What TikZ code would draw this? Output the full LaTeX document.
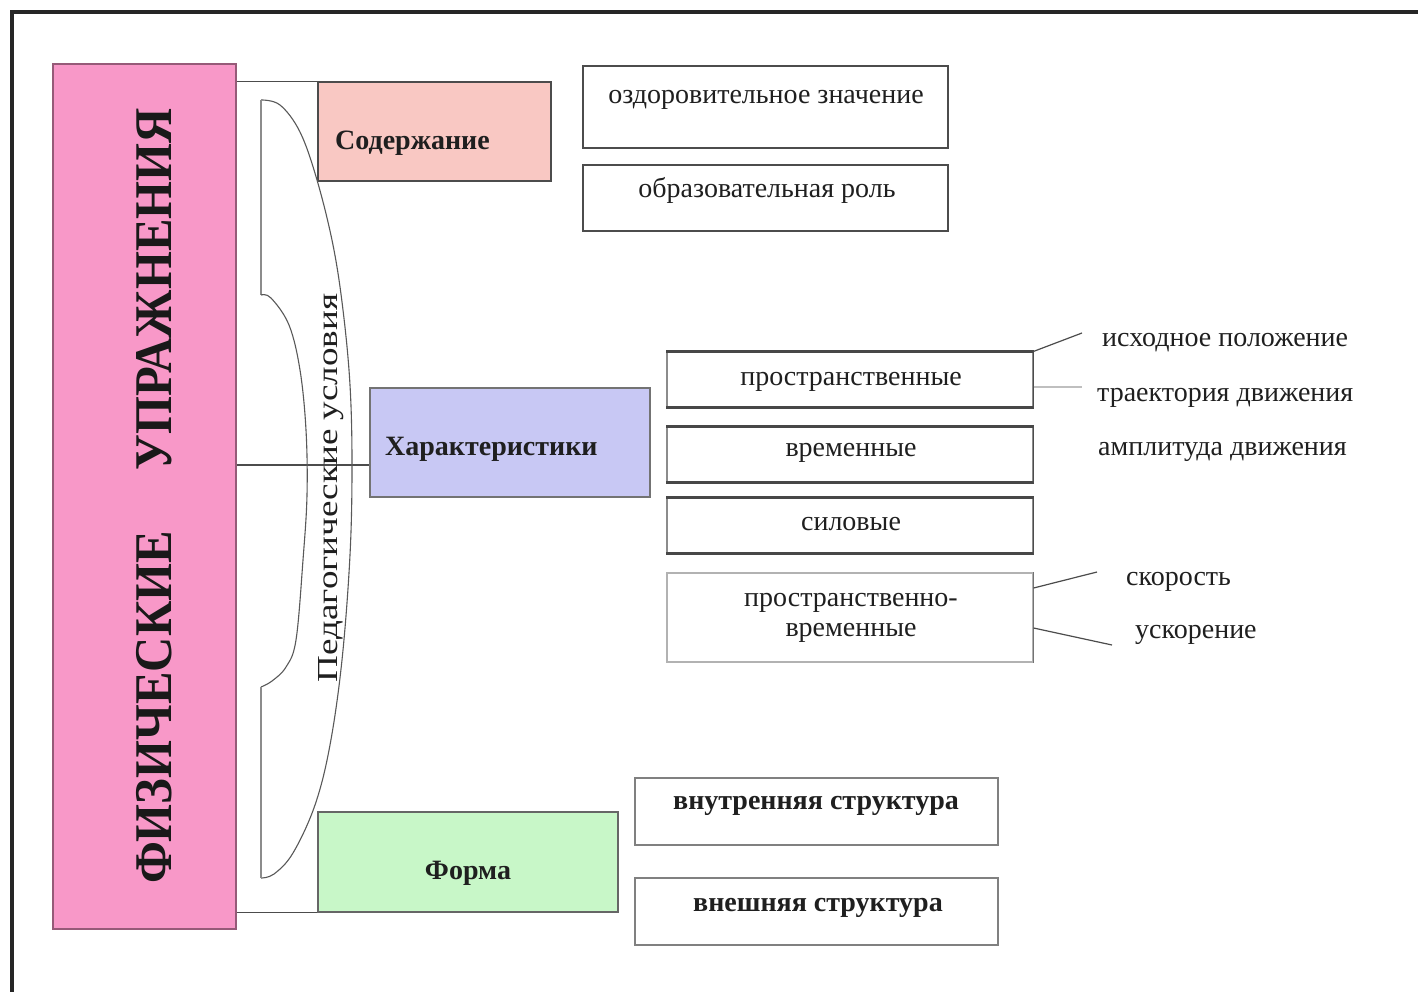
\documentclass[tikz,border=0pt]{standalone}
\usepackage{fontspec}
\setmainfont{Liberation Serif}
\usepackage{graphicx}
\definecolor{pinkF}{RGB}{248,152,200}
\definecolor{pinkD}{RGB}{150,90,120}
\definecolor{sodF}{RGB}{249,200,195}
\definecolor{harF}{RGB}{200,200,244}
\definecolor{formF}{RGB}{200,247,200}
\begin{document}
\begin{tikzpicture}[x=1pt,y=-1pt,
  box/.style={draw=black!70, line width=1.6pt, inner sep=0pt},
  sbox/.style={draw=black!45, line width=1.2pt, inner sep=0pt},
  edge3/.style={draw=black!72, line width=2.6pt},
  txt/.style={inner sep=0pt, anchor=base, text=black!88, font=\fontsize{28}{32}\selectfont},
  btxt/.style={txt, font=\fontsize{28}{32}\selectfont\bfseries},
  conn/.style={draw=black!70, line width=1.2pt},
  bracel/.style={draw=black!65, line width=1.1pt},
]
\useasboundingbox (0,0) rectangle (1418,992);
\fill[white] (0,0) rectangle (1418,992);

% outer frame
\draw[line width=3.5pt, black!85] (12,992) -- (12,12) -- (1418,12);

% main boxes
\node[box, fill=pinkF, draw=pinkD, minimum width=183pt, minimum height=865pt] (fiz) at (144.5,496.5) {};
\node[box, fill=sodF, minimum width=233pt, minimum height=99pt] (sod) at (434.5,131.5) {};
\node[box, fill=harF, draw=black!55, minimum width=280pt, minimum height=109pt] (har) at (510,442.5) {};
\node[box, fill=formF, draw=black!60, minimum width=300pt, minimum height=100pt] (form) at (468,862) {};

% right boxes
\node[box, minimum width=365pt, minimum height=82pt] (ozd) at (765.5,107) {};
\node[box, minimum width=365pt, minimum height=66pt] (obr) at (765.5,198) {};

\node[sbox, minimum width=366pt, minimum height=55pt] (pr) at (850,379.5) {};
\node[sbox, minimum width=366pt, minimum height=55pt] (vr) at (850,454.5) {};
\node[sbox, minimum width=366pt, minimum height=55pt] (sil) at (850,525.5) {};
\node[sbox, draw=black!30, minimum width=366pt, minimum height=89pt] (prv) at (850,617.5) {};
\foreach \b in {pr,vr,sil}{
  \draw[edge3] (\b.north west) -- (\b.north east);
  \draw[edge3] (\b.south west) -- (\b.south east);
  \draw[draw=black!70, line width=1.4pt] (\b.north east) -- (\b.south east);
}
\draw[draw=black!55, line width=1.4pt] (prv.north east) -- (prv.south east);

\node[sbox, draw=black!50, line width=1.5pt, minimum width=363pt, minimum height=67pt] (vnu) at (816.5,811.5) {};
\node[sbox, draw=black!50, line width=1.5pt, minimum width=363pt, minimum height=67pt] (vne) at (816.5,911.5) {};

% connectors from main box
\draw[conn] (fiz.east |- sod.north) -- (sod.north west);
\coordinate (hj) at ([yshift=-22.5pt]har.west);
\draw[conn] (fiz.east |- hj) -- (hj);
\draw[conn] (fiz.east |- form.south) -- (form.south west);

% brace
\draw[bracel] plot[smooth, tension=0.6] coordinates {(261,100) (280,105) (300,132) (317,180) (333,245) (343,310) (350,385) (352,465) (350,555) (342,660) (330,745) (315,805) (293,853) (274,874) (261,878)};
\draw[bracel, draw=black!45] (261,100) -- (261,295);
\draw[bracel] plot[smooth, tension=0.6] coordinates {(261,295) (271,298) (289,325) (300,370) (306,430) (307,495) (303,560) (296,640) (286,667) (272,681) (261,687)};
\draw[bracel, draw=black!45] (261,687) -- (261,878);

% right connectors
\coordinate (c1) at (1082,333);
\coordinate (c2) at (1082,387);
\coordinate (c3) at (1097,572);
\coordinate (c4) at (1112,645);
\draw[conn] (pr.north east) -- (c1);
\draw[conn, draw=black!25] ([yshift=-7.5pt]pr.east) -- (c2);
\draw[conn] ([yshift=29.5pt]prv.east) -- (c3);
\draw[conn] ([yshift=-10.5pt]prv.east) -- (c4);

% texts
\node[inner sep=0pt, anchor=base, rotate=90, text=black!90, font=\fontsize{53}{56}\selectfont\bfseries] (t1) at (171,289.5) {\scalebox{0.92}[1]{УПРАЖНЕНИЯ}};
\node[inner sep=0pt, anchor=base, rotate=90, text=black!90, font=\fontsize{53}{56}\selectfont\bfseries] (t2) at (171,707.5) {\scalebox{0.92}[1]{ФИЗИЧЕСКИЕ}};
\node[txt, rotate=90, font=\fontsize{29}{32}\selectfont] (ped) at (337,488) {\scalebox{1.28}[1]{Педагогические условия}};

\node[btxt, anchor=base west] (tsod) at (335,150) {Содержание};
\node[btxt, anchor=base west] (thar) at (385,455) {Характеристики};
\node[btxt] (tform) at (468,879) {Форма};

\node[txt] (tozd) at (766,104) {оздоровительное значение};
\node[txt] (tobr) at (767,198) {образовательная роль};
\node[txt] (tpr) at (851,385) {пространственные};
\node[txt] (tvr) at (851,456) {временные};
\node[txt] (tsil) at (851,530) {силовые};
\node[txt] (tprv1) at (851,606) {пространственно-};
\node[txt] (tprv2) at (851,636) {временные};

\node[txt, anchor=base west] (tish) at (1102,346) {исходное положение};
\node[txt, anchor=base west] (ttra) at (1097,401) {траектория движения};
\node[txt, anchor=base west] (tamp) at (1098,455) {амплитуда движения};
\node[txt, anchor=base west] (tsko) at (1126,585) {скорость};
\node[txt, anchor=base west] (tusk) at (1135,638) {ускорение};

\node[btxt] (tvnu) at (816,809) {внутренняя структура};
\node[btxt] (tvne) at (818,911) {внешняя структура};
\end{tikzpicture}
\end{document}
